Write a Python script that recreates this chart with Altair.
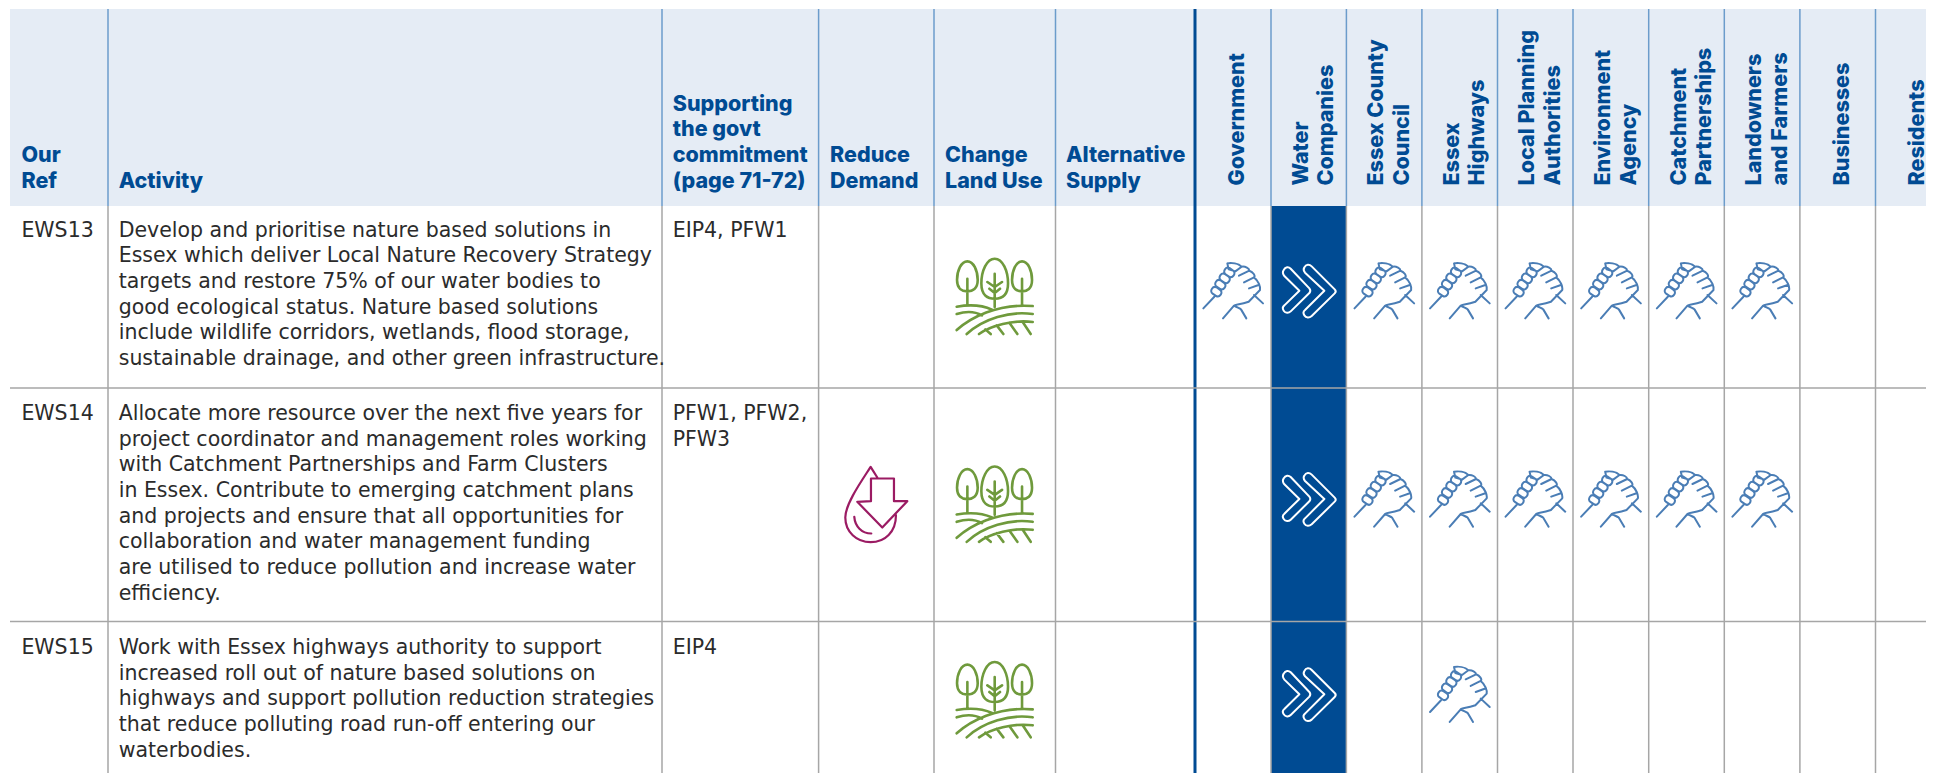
import altair as alt
import pandas as pd
import re

# ---- content ----
row_refs = ["EWS13", "EWS14", "EWS15"]
row_support = [["EIP4, PFW1"], ["PFW1, PFW2,", "PFW3"], ["EIP4"]]
row_activity = [
    ["Develop and prioritise nature based solutions in",
     "Essex which deliver Local Nature Recovery Strategy",
     "targets and restore 75% of our water bodies to",
     "good ecological status. Nature based solutions",
     "include wildlife corridors, wetlands, flood storage,",
     "sustainable drainage, and other green infrastructure."],
    ["Allocate more resource over the next five years for",
     "project coordinator and management roles working",
     "with Catchment Partnerships and Farm Clusters",
     "in Essex. Contribute to emerging catchment plans",
     "and projects and ensure that all opportunities for",
     "collaboration and water management funding",
     "are utilised to reduce pollution and increase water",
     "efficiency."],
    ["Work with Essex highways authority to support",
     "increased roll out of nature based solutions on",
     "highways and support pollution reduction strategies",
     "that reduce polluting road run-off entering our",
     "waterbodies."],
]
flat_headers = [["Our", "Ref"], ["Activity"],
                ["Supporting", "the govt", "commitment", "(page 71-72)"],
                ["Reduce", "Demand"], ["Change", "Land Use"], ["Alternative", "Supply"]]
partner_headers = [["Government"], ["Water", "Companies"], ["Essex County", "Council"],
                   ["Essex", "Highways"], ["Local Planning", "Authorities"],
                   ["Environment", "Agency"], ["Catchment", "Partnerships"],
                   ["Landowners", "and Farmers"], ["Businesses"], ["Residents"]]
demand_rows = ["EWS14"]
landuse_rows = ["EWS13", "EWS14", "EWS15"]
lead_rows = ["EWS13", "EWS14", "EWS15"]
support_cells = {
    "EWS13": [0, 2, 3, 4, 5, 6, 7],
    "EWS14": [2, 3, 4, 5, 6, 7],
    "EWS15": [3],
}

# ---- layout (page pixels) ----
W, H = 1918, 765
LEFT, TOP, HEAD_BOT, RIGHT, BOTTOM = 10, 9, 206, 1934, 773
flat_edges = [108, 662, 818.6, 934, 1055.5]
THICK = 1195
partner_edges = [1271, 1346.4, 1421.9, 1497.5, 1573, 1648.7, 1724.3, 1799.9, 1875.5]
row_lines = [388, 621.5]
row_first_base = [236.7, 420, 654]
LINE = 25.67
flat_x = [21.4, 118.7, 672.7, 830, 945, 1066]
col_icon_x = {"demand": 876.3, "land": 994.7}
partner_all = [THICK] + partner_edges + [1951]
partner_cx = [(partner_all[i] + partner_all[i + 1]) / 2 for i in range(10)]
icon_y = {"EWS13": 290.7, "EWS14": 499, "EWS15": 694.3}
tree_y = {"EWS13": 296.7, "EWS14": 504.5, "EWS15": 700}

BLUE = "#004b93"
HEAD_BG = "#e5ecf5"
HEAD_LINE = "#6b9ccb"
BODY_LINE = "#a6a6a6"
TEXT = "#2b2b2b"
HAND = "#4a7db5"
GREEN = "#6f9a3c"
PLUM = "#9b1b63"
BODY_FONT, BODY_SIZE = "DejaVu Sans", 20.5
HEAD_FONT, HEAD_SIZE = "Inter", 21.5

xs = alt.Scale(domain=[8, 8 + W], range=[0, W], nice=False, zero=False)
ys = alt.Scale(domain=[8, 8 + H], range=[0, H], nice=False, zero=False)
X = lambda f="x": alt.X(f"{f}:Q", scale=xs, axis=None)
Y = lambda f="y": alt.Y(f"{f}:Q", scale=ys, axis=None)


def parse(s, cx, cy):
    out = []
    for cmd, body in re.findall(r"([MLCQZ])([^MLCQZ]*)", s):
        nums = [float(n) for n in re.findall(r"-?\d+\.?\d*", body)]
        pts = [f"{nums[i] - cx:.1f},{nums[i + 1] - cy:.1f}" for i in range(0, len(nums), 2)]
        out.append(cmd + " ".join(pts))
    return "".join(out)


def egg(cx, top, bot, hw):
    mid = top + (bot - top) * 0.62
    return (f"M{cx},{top}C{cx + hw * .6},{top} {cx + hw},{mid - (mid - top) * .5} {cx + hw},{mid}"
            f"C{cx + hw},{bot - 8} {cx + hw * .5},{bot} {cx},{bot}"
            f"C{cx - hw * .5},{bot} {cx - hw},{bot - 8} {cx - hw},{mid}"
            f"C{cx - hw},{mid - (mid - top) * .5} {cx - hw * .6},{top} {cx},{top}Z")


TREE = parse(
    egg(584, 80, 200, 40) + egg(502, 88, 178, 31) + egg(666, 88, 178, 30)
    + "M584,125L584,225M562,150L584,165L606,150M568,170L584,183L600,170"
    + "M502,140L502,218M666,140L666,218"
    + "M470,224C510,217 550,221 576,233M470,246C495,238 525,238 546,250"
    + "M470,294C510,258 590,214 698,222M500,306C550,260 630,236 698,246"
    + "M537,306C570,282 640,262 698,270"
    + "M556,292L572,306M590,280L610,306M628,272L652,306M668,270L692,306",
    584, 194)

DROP = parse(
    "M232,112L212,80C190,115 136,190 136,232C136,275 170,306 212,306C255,306 288,275 288,225"
    "M163,230C165,258 185,280 214,280"
    "M213,115L282,115L282,183L322,183L247,262L172,185L213,183Z",
    229, 193)


def capsule(x1, y1, x2, y2, w=11):
    dx, dy = x2 - x1, y2 - y1
    n = (dx * dx + dy * dy) ** .5
    nx, ny = -dy / n * w, dx / n * w
    ex, ey = dx / n * w * 1.2, dy / n * w * 1.2
    return (f"M{x1 + nx:.1f},{y1 + ny:.1f}L{x2 + nx:.1f},{y2 + ny:.1f}"
            f"C{x2 + nx + ex:.1f},{y2 + ny + ey:.1f} {x2 - nx + ex:.1f},{y2 - ny + ey:.1f} {x2 - nx:.1f},{y2 - ny:.1f}"
            f"L{x1 - nx:.1f},{y1 - ny:.1f}"
            f"C{x1 - nx - ex:.1f},{y1 - ny - ey:.1f} {x1 + nx - ex:.1f},{y1 + ny - ey:.1f} {x1 + nx:.1f},{y1 + ny:.1f}Z")


HANDS = parse(
    "M40,203L73,168"
    + capsule(74, 149.6, 84, 156.4) + capsule(86, 128.6, 96, 135.4)
    + capsule(99, 109.6, 109, 116.4) + capsule(113, 91.6, 123, 98.4)
    + "M112,68C125,66 145,68 155,78M112,68L116,86L136,92L155,78"
    + "M155,78C166,76 178,84 178,90C190,94 197,106 192,110C205,120 212,138 210,148"
    + "L176,183C150,193 132,190 132,195L99,233"
    + "M132,195C140,200 150,203 153,206L169,233M192,163L219,188"
    + "M147,105L178,90M162,125L192,110M177,143L208,132",
    129, 150)

CHEV = parse(
    "M283,88C288,78 298,78 304,84L360,143C364,148 364,152 360,157L304,212C298,218 288,218 283,210"
    "C279,204 280,198 285,194L330,150L285,106C280,100 279,94 283,88Z"
    "M345,80C350,70 360,70 367,77L436,146C440,150 440,154 436,158L367,226C360,232 350,232 345,224"
    "C341,218 342,212 347,208L405,150L347,96C342,90 341,86 345,80Z",
    358, 150)

# ---- tables ----
rects = pd.DataFrame([
    dict(x=LEFT, x2=RIGHT, y=TOP, y2=HEAD_BOT, c=HEAD_BG),
    dict(x=partner_edges[0], x2=partner_edges[1], y=HEAD_BOT, y2=BOTTOM, c=BLUE),
])
vlines = []
for e in flat_edges + partner_edges:
    vlines.append(dict(x=e, y=TOP, y2=HEAD_BOT, c=HEAD_LINE, w=1.5))
    vlines.append(dict(x=e, y=HEAD_BOT, y2=BOTTOM, c=BODY_LINE, w=1.5))
vlines.append(dict(x=THICK, y=TOP, y2=BOTTOM, c=BLUE, w=3))
hlines = [dict(x=LEFT, x2=RIGHT, y=r, c=BODY_LINE, w=1.5) for r in row_lines]
vl = pd.DataFrame(vlines)
hl = pd.DataFrame(hlines)

body = []
for i, ref in enumerate(row_refs):
    body.append(dict(x=flat_x[0], y=row_first_base[i], t=ref))
    for j, l in enumerate(row_activity[i]):
        body.append(dict(x=flat_x[1], y=row_first_base[i] + j * LINE, t=l))
    for j, l in enumerate(row_support[i]):
        body.append(dict(x=flat_x[2], y=row_first_base[i] + j * LINE, t=l))
body = pd.DataFrame(body)

head = []
HEAD_LAST = 187.6
for x, lines in zip(flat_x, flat_headers):
    for j, l in enumerate(lines):
        head.append(dict(x=x, y=HEAD_LAST - (len(lines) - 1 - j) * LINE, t=l))
head = pd.DataFrame(head)

rot = []
for cx, lines in zip(partner_cx, partner_headers):
    offs = [11] if len(lines) == 1 else [-1, 24.7]
    for o, l in zip(offs, lines):
        rot.append(dict(x=cx + o, y=185.5, t=l))
rot = pd.DataFrame(rot)

icons = []
for r in demand_rows:
    icons.append(dict(x=col_icon_x["demand"], y=tree_y[r], k="drop"))
for r in landuse_rows:
    icons.append(dict(x=col_icon_x["land"], y=tree_y[r], k="tree"))
for r in lead_rows:
    icons.append(dict(x=partner_cx[1], y=icon_y[r], k="chev"))
for r, cols in support_cells.items():
    for c in cols:
        icons.append(dict(x=partner_cx[c], y=icon_y[r], k="hand"))
icons = pd.DataFrame(icons)


def icon_layer(kind, path, color, sw):
    return alt.Chart(icons[icons.k == kind]).mark_point(
        shape=path, size=4 / 9, filled=False, stroke=color, strokeWidth=sw, opacity=1,
        strokeCap="round", strokeJoin="round"
    ).encode(x=X(), y=Y())


layers = [
    alt.Chart(rects).mark_rect(stroke=None).encode(
        x=X(), x2="x2:Q", y=Y(), y2="y2:Q", color=alt.Color("c:N", scale=None)),
    alt.Chart(vl).mark_rule().encode(
        x=X(), y=Y(), y2="y2:Q", color=alt.Color("c:N", scale=None),
        strokeWidth=alt.StrokeWidth("w:Q", scale=None)),
    alt.Chart(hl).mark_rule().encode(
        x=X(), x2="x2:Q", y=Y(), color=alt.Color("c:N", scale=None),
        strokeWidth=alt.StrokeWidth("w:Q", scale=None)),
    alt.Chart(body).mark_text(align="left", baseline="alphabetic", font=BODY_FONT,
                              fontSize=BODY_SIZE, color=TEXT).encode(x=X(), y=Y(), text="t:N"),
    alt.Chart(head).mark_text(align="left", baseline="alphabetic", font=HEAD_FONT,
                              fontSize=HEAD_SIZE, fontWeight=800, color=BLUE).encode(x=X(), y=Y(), text="t:N"),
    alt.Chart(rot).mark_text(align="left", baseline="alphabetic", font=HEAD_FONT, angle=270,
                             fontSize=HEAD_SIZE, fontWeight=800, color=BLUE).encode(x=X(), y=Y(), text="t:N"),
    icon_layer("tree", TREE, GREEN, 2.6),
    icon_layer("drop", DROP, PLUM, 2.2),
    icon_layer("hand", HANDS, HAND, 2),
    icon_layer("chev", CHEV, "#ffffff", 2),
]

chart = alt.layer(*layers).properties(
    width=W, height=H, padding=0, background="#ffffff",
    autosize=alt.AutoSizeParams(type="none"),
).configure_view(stroke=None)

chart.save("out.html", embed_options={"renderer": "svg", "actions": False})
